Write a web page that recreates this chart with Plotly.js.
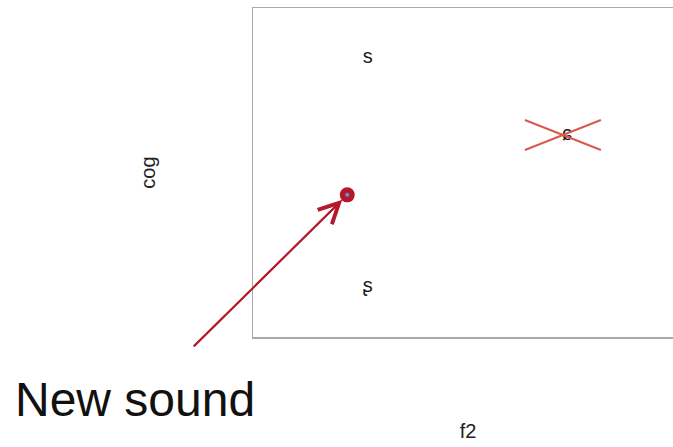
<!DOCTYPE html>
<html>
<head>
<meta charset="utf-8">
<script src="https://cdn.plot.ly/plotly-3.0.1.min.js"></script>
<style>
html, body { margin: 0; padding: 0; overflow: hidden; background: #fff; }
#chart { width: 700px; height: 447px; }
</style>
</head>
<body>
<div id="chart"></div>
<script>
// Known sounds: labels and positions (f2, cog)
var soundLabels = ["s", "ɕ", "ʂ"];
var soundF2 = [1520, 2076, 1520];
var soundCog = [7240, 6070, 3760];

// Crossed-out sound
var crossedLabel = "ɕ";

// New sound
var newLabel = "New sound";
var newF2 = [1463];
var newCog = [5160];

var xRange = [1200, 2400];
var yRange = [3000, 8000];

var crossIdx = soundLabels.indexOf(crossedLabel);

var traces = [
  {
    x: soundF2, y: soundCog, text: soundLabels,
    mode: "text", type: "scatter",
    textfont: { family: "Liberation Sans, Arial, sans-serif", size: 20, color: "#1a1a1a" },
    hoverinfo: "none", showlegend: false
  },
  {
    x: newF2, y: newCog, mode: "markers", type: "scatter",
    marker: { size: 15, color: "#b5172b" },
    hoverinfo: "none", showlegend: false
  },
  {
    x: newF2, y: newCog, mode: "markers", type: "scatter",
    marker: { size: 4, color: "#5b9bd5" },
    hoverinfo: "none", showlegend: false
  }
];

var cx = soundF2[crossIdx], cy = soundCog[crossIdx];
var shapes = [
  { type: "line", xref: "x", yref: "y", xsizemode: "pixel", ysizemode: "pixel",
    xanchor: cx, yanchor: cy, x0: -42, x1: 34, y0: 15, y1: -15,
    line: { color: "#d9594f", width: 2 } },
  { type: "line", xref: "x", yref: "y", xsizemode: "pixel", ysizemode: "pixel",
    xanchor: cx, yanchor: cy, x0: -42, x1: 34, y0: -15, y1: 15,
    line: { color: "#d9594f", width: 2 } }
];

var annotations = [
  {
    x: newF2[0], y: newCog[0], xref: "x", yref: "y",
    text: "", showarrow: true,
    ax: -155, ay: 153,
    arrowhead: 5, arrowsize: 1.8, arrowwidth: 2.2, arrowcolor: "#b5172b",
    standoff: 7
  },
  {
    xref: "paper", yref: "paper",
    x: -0.274, y: -0.19, xanchor: "center", yanchor: "middle",
    text: newLabel, showarrow: false,
    font: { family: "Liberation Sans, Arial, sans-serif", size: 48, color: "#111" }
  }
];

var layout = {
  width: 700, height: 447,
  margin: { l: 253, r: 17, t: 8, b: 110 },
  paper_bgcolor: "#fff", plot_bgcolor: "#fff",
  xaxis: {
    range: xRange, showgrid: false, zeroline: false, showticklabels: false, ticks: "",
    showline: true, mirror: true, linecolor: "#aaaaaa", linewidth: 1.5,
    title: { text: "f2", standoff: 86, font: { family: "Liberation Sans, Arial, sans-serif", size: 20, color: "#222" } }
  },
  yaxis: {
    range: yRange, showgrid: false, zeroline: false, showticklabels: false, ticks: "",
    showline: true, mirror: true, linecolor: "#aaaaaa", linewidth: 1.5,
    title: { text: "cog", standoff: 90, font: { family: "Liberation Sans, Arial, sans-serif", size: 20, color: "#222" } }
  },
  shapes: shapes,
  annotations: annotations
};

Plotly.newPlot("chart", traces, layout, { displayModeBar: false, staticPlot: true });
</script>
</body>
</html>
